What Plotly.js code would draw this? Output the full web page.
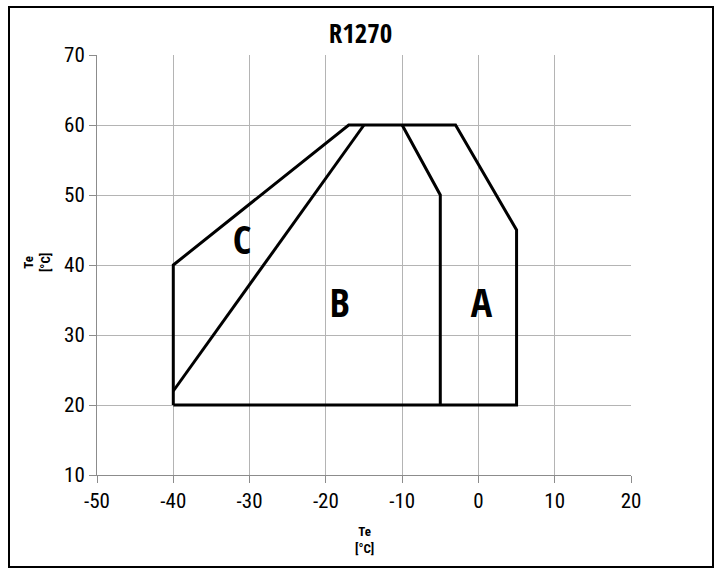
<!DOCTYPE html>
<html>
<head>
<meta charset="utf-8">
<script src="https://cdn.plot.ly/plotly-3.0.1.min.js"></script>
<style>
html,body{margin:0;padding:0;background:#fff;}
#wrap{position:relative;width:721px;height:574px;}
#chart{width:721px;height:574px;}
#frame{position:absolute;left:8px;top:6px;width:702px;height:558px;border:2px solid #000;pointer-events:none;}
</style>
</head>
<body>
<div id="wrap"><div id="chart"></div><div id="frame"></div></div>
<script>
// Outer envelope
const outerX = [-40, -40, -17, -3, 5, 5, -40];
const outerY = [20, 40, 60, 60, 45, 20, 20];
// Divider between C and B
const divCBx = [-40, -15];
const divCBy = [22, 60];
// Divider between B and A
const divBAx = [-10, -5, -5];
const divBAy = [60, 50, 20];
// Region labels
const regionNames = ['C', 'B', 'A'];
const regionX = [-31, -18.2, 0.4];
const regionY = [43, 34, 34];
const xTicks = [-50, -40, -30, -20, -10, 0, 10, 20];
const yTicks = [10, 20, 30, 40, 50, 60, 70];

const lineStyle = {color: '#000', width: 3};
const tickFont = {family: '"Roboto Condensed", "Liberation Sans", Arial, sans-serif', size: 21, color: '#000'};
const traces = [
  {x: outerX, y: outerY, mode: 'lines', line: lineStyle, hoverinfo: 'skip'},
  {x: divCBx, y: divCBy, mode: 'lines', line: lineStyle, hoverinfo: 'skip'},
  {x: divBAx, y: divBAy, mode: 'lines', line: lineStyle, hoverinfo: 'skip'},
  {x: regionX, y: regionY, mode: 'text', text: regionNames,
   textfont: {family: '"Open Sans Condensed", "Roboto Condensed", sans-serif', size: 40, color: '#000', weight: 'bold'},
   textposition: 'middle center', hoverinfo: 'skip'}
];

const layout = {
  width: 721, height: 574,
  margin: {l: 97, r: 90, t: 55, b: 99},
  paper_bgcolor: '#fff', plot_bgcolor: '#fff',
  showlegend: false,
  title: {text: '<b>R1270</b>', x: 0.5, xanchor: 'center', y: 1 - 34/574, yanchor: 'middle', yref: 'container',
          font: {family: '"Open Sans Condensed", "Roboto Condensed", sans-serif', size: 27, color: '#000'}},
  xaxis: {range: [-50, 20], tickvals: xTicks, ticktext: xTicks.map(String), showgrid: true, gridcolor: '#b4b4b4', gridwidth: 1,
          zeroline: false, showline: true, linecolor: '#8c8c8c', linewidth: 1, mirror: false,
          ticks: 'outside', ticklen: 7, tickcolor: '#8c8c8c',
          tickfont: tickFont, fixedrange: true},
  yaxis: {range: [10, 70], tickvals: yTicks, ticktext: yTicks.map(String), showgrid: true, gridcolor: '#b4b4b4', gridwidth: 1,
          zeroline: false, showline: true, linecolor: '#8c8c8c', linewidth: 1,
          ticks: 'outside', ticklen: 7, tickcolor: '#8c8c8c',
          tickfont: tickFont, fixedrange: true},
  annotations: [
    {text: '<b>Te<br>[°C]</b>', xref: 'x', yref: 'paper', x: -15, y: -0.155, xanchor: 'center', yanchor: 'middle',
     showarrow: false, font: {family: '"Roboto Condensed", Arial, sans-serif', size: 13, color: '#000'}},
    {text: '<b>Te<br>[°C]</b>', xref: 'paper', yref: 'paper', x: -0.112, y: 0.505, xanchor: 'center', yanchor: 'middle',
     textangle: -90, showarrow: false, font: {family: '"Roboto Condensed", Arial, sans-serif', size: 13, color: '#000'}}
  ]
};

Plotly.newPlot('chart', traces, layout, {displayModeBar: false, staticPlot: true});
</script>
</body>
</html>
